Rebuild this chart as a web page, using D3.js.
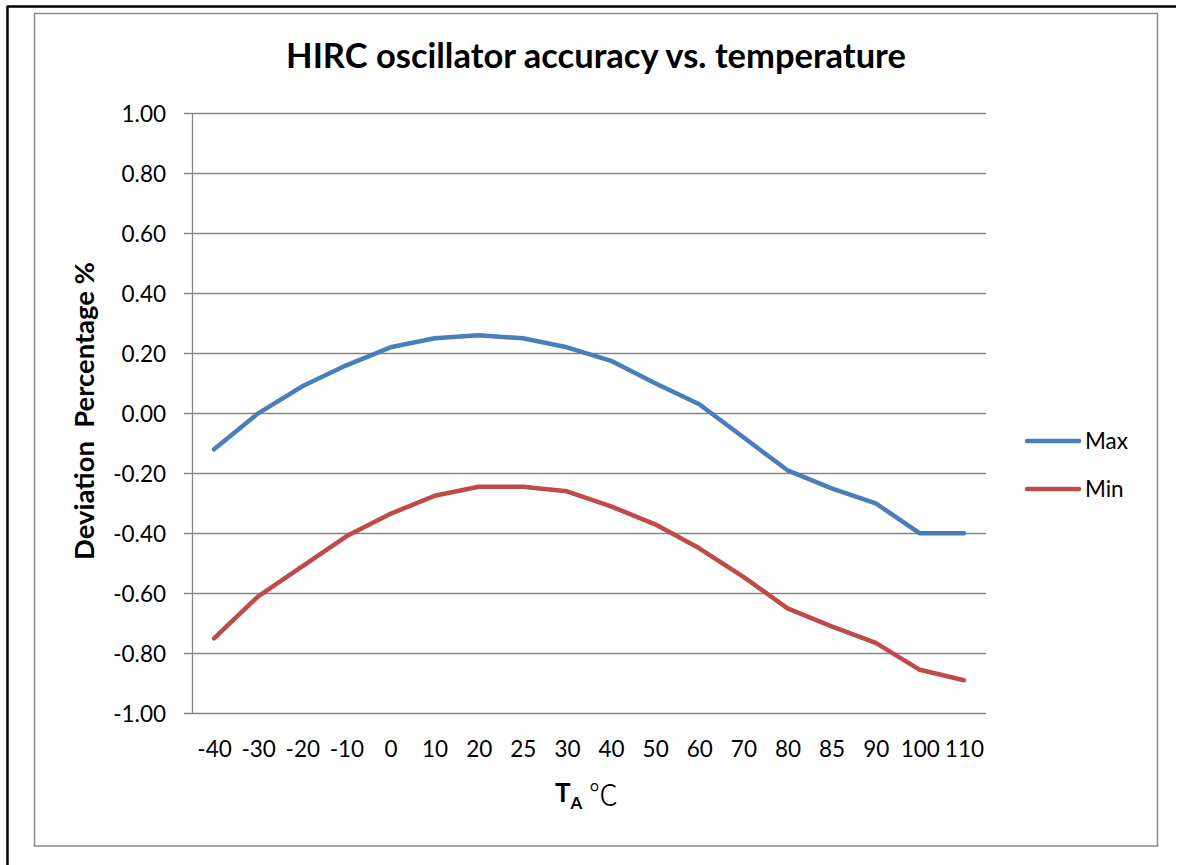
<!DOCTYPE html>
<html>
<head>
<meta charset="utf-8">
<script src="https://cdn.jsdelivr.net/npm/d3@7"></script>
<style>
  html, body { margin: 0; padding: 0; background: #fff; }
  svg { display: block; }
  text { font-family: Lato, "Open Sans", "DejaVu Sans", sans-serif; fill: #000; }
</style>
</head>
<body>
<svg id="chart" width="1180" height="865"></svg>
<script>
// ---- data ----
const categories = ["-40","-30","-20","-10","0","10","20","25","30","40","50","60","70","80","85","90","100","110"];
const maxValues = [-0.12, 0.00, 0.09, 0.16, 0.22, 0.25, 0.26, 0.25, 0.22, 0.175, 0.10, 0.03, -0.08, -0.19, -0.25, -0.30, -0.40, -0.40];
const minValues = [-0.75, -0.61, -0.51, -0.41, -0.335, -0.275, -0.245, -0.245, -0.26, -0.31, -0.37, -0.45, -0.545, -0.65, -0.71, -0.765, -0.855, -0.89];
const yTicks = [1.00, 0.80, 0.60, 0.40, 0.20, 0.00, -0.20, -0.40, -0.60, -0.80, -1.00];
const seriesNames = ["Max", "Min"];
const titleText = "HIRC oscillator accuracy vs. temperature";
const yTitleText = "Deviation\u00A0\u00A0Percentage %";

const series = [
  { name: seriesNames[0], values: maxValues, color: "#4a7ebb" },
  { name: seriesNames[1], values: minValues, color: "#be4b48" }
];

const svg = d3.select("#chart");

// outer frame
svg.append("line").attr("x1", 7).attr("x2", 1176).attr("y1", 6.5).attr("y2", 6.5)
  .attr("stroke", "#000").attr("stroke-width", 2.5);
svg.append("line").attr("x1", 7.5).attr("x2", 7.5).attr("y1", 6).attr("y2", 865)
  .attr("stroke", "#000").attr("stroke-width", 2.5);
// chart area frame
svg.append("rect").attr("x", 34.5).attr("y", 13.5).attr("width", 1123).attr("height", 832.5)
  .attr("fill", "#fff").attr("stroke", "#8a8a8a").attr("stroke-width", 1.5);

const plot = { left: 192, right: 986, top: 113.3, bottom: 713.3 };

const x = d3.scalePoint().domain(categories).range([plot.left, plot.right]).padding(0.5);
const y = d3.scaleLinear().domain([-1, 1]).range([plot.bottom, plot.top]);

// gridlines
svg.append("g").selectAll("line").data(yTicks).join("line")
  .attr("x1", plot.left - 8).attr("x2", plot.right)
  .attr("y1", d => Math.round(y(d)) + 0.5).attr("y2", d => Math.round(y(d)) + 0.5)
  .attr("stroke", "#868686").attr("stroke-width", 1.3);

// y axis
const yAxis = d3.axisLeft(y).tickValues(yTicks).tickSize(0).tickPadding(26)
  .tickFormat(d => d.toFixed(2));
const yg = svg.append("g").attr("transform", `translate(${plot.left},0)`).call(yAxis);
yg.select(".domain").remove();
yg.selectAll("text").style("font-size", "22.5px").attr("dy", "0.36em");
svg.append("line").attr("x1", plot.left + 0.5).attr("x2", plot.left + 0.5)
  .attr("y1", plot.top).attr("y2", plot.bottom + 0.5)
  .attr("stroke", "#868686").attr("stroke-width", 1.3);

// x axis
const xAxis = d3.axisBottom(x).tickSize(0).tickPadding(0);
const xg = svg.append("g").attr("transform", `translate(0,${plot.bottom})`).call(xAxis);
xg.select(".domain").remove();
xg.selectAll("text").style("font-size", "22.5px").attr("dy", null).attr("y", 44);

// lines
const line = d3.line().x((d, i) => x(categories[i])).y(d => y(d));
svg.append("g").selectAll("path").data(series).join("path")
  .attr("d", s => line(s.values))
  .attr("fill", "none")
  .attr("stroke", s => s.color)
  .attr("stroke-width", 4.5)
  .attr("stroke-linejoin", "round")
  .attr("stroke-linecap", "round");

// title
const title = svg.append("text").attr("x", 596).attr("y", 68)
  .attr("text-anchor", "middle").style("font-weight", "bold").style("font-size", "30px")
  .text(titleText);
{
  const w = title.node().getComputedTextLength();
  title.style("font-size", (30 * 620 / w).toFixed(2) + "px");
}

// y title
const yt = svg.append("text").attr("transform", "translate(94,411) rotate(-90)")
  .attr("text-anchor", "middle").style("font-weight", "bold").style("font-size", "22px")
  .text(yTitleText);
{
  const w = yt.node().getComputedTextLength();
  yt.style("font-size", (22 * 298 / w).toFixed(2) + "px");
}

// x title
const xt = svg.append("text").attr("x", 555).attr("y", 802);
xt.append("tspan").style("font-weight", "bold").style("font-size", "26px").text("T");
xt.append("tspan").style("font-weight", "bold").style("font-size", "17px").attr("dy", 7).text("A");
svg.append("text").attr("x", 589).attr("y", 806)
  .style("font-family", "'Noto Sans CJK SC', 'DejaVu Serif', serif")
  .style("font-size", "29px").style("font-weight", "300").text("\u2103");

// legend
const lg = svg.append("g").selectAll("g").data(series).join("g")
  .attr("transform", (d, i) => `translate(1025,${441 + i * 48})`);
lg.append("line").attr("x1", 2).attr("x2", 54).attr("y1", 0).attr("y2", 0)
  .attr("stroke", d => d.color).attr("stroke-width", 4.5).attr("stroke-linecap", "round");
lg.append("text").attr("x", 60).attr("y", 0).attr("dy", "0.36em")
  .style("font-size", "22.5px").text(d => d.name);
</script>
</body>
</html>
